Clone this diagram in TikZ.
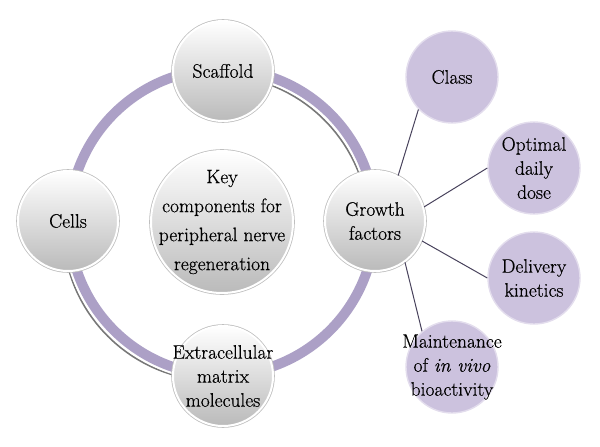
\documentclass[tikz,border=0pt]{standalone}
\usepackage{fontspec}
\setmainfont{Latin Modern Roman}[UprightFeatures={FakeBold=0.5}, ItalicFeatures={FakeBold=0.5}]
\usetikzlibrary{calc}

\definecolor{RingPurple}{RGB}{172,160,198}
\definecolor{RingShadow}{RGB}{120,120,120}
\definecolor{LilacFill}{RGB}{204,194,222}
\definecolor{LinkGray}{RGB}{72,66,92}

\tikzset{
  greyball/.style={circle, minimum size=100pt, inner sep=-25pt, align=center,
    top color=white, bottom color=black!27, draw=white, line width=2pt,
    preaction={draw=black!25, line width=3.6pt},
    font=\fontsize{19.5}{24}\selectfont},
  lilacball/.style={circle, minimum size=92pt, inner sep=-25pt, align=center,
    fill=LilacFill, draw=LilacFill!55!white, line width=1.4pt,
    font=\fontsize{19.5}{24}\selectfont},
  link/.style={draw=LinkGray, line width=1pt}
}

\begin{document}
\begin{tikzpicture}[x=1pt, y=-1pt]

\useasboundingbox (0,0) rectangle (600,447);

\coordinate (O) at (222,222);

% Anillo: sombra, hueco blanco y banda lila
\draw[RingShadow, line width=1.6pt] ($(O)+(-6,6)$) circle [radius=153pt];
\draw[white, line width=14pt] (O) circle [radius=153pt];
\draw[RingPurple, line width=10pt] (O) circle [radius=153pt];

% Componentes clave
\node[greyball] (scaffold) at (223,71) {Scaffold};
\node[greyball] (cells) at (68,221) {Cells};
\node[greyball] (growth) at (375,221) {Growth\\factors};
\node[greyball] (ecm) at (223,376) {Extracellular\\matrix\\molecules};
\node[greyball, minimum size=142pt, font=\fontsize{19.5}{29}\selectfont] (key) at (O)
  {Key\\components for\\peripheral nerve\\regeneration};

% Factores de crecimiento
\node[lilacball] (class) at (452,77) {Class};
\node[lilacball] (dose) at (534,168) {Optimal\\daily\\dose};
\node[lilacball] (kinetics) at (534,278) {Delivery\\kinetics};
\node[lilacball] (bioactivity) at (452,367) {Maintenance\\of \textit{in vivo}\\bioactivity};

\draw[link] (growth.63) -- (class.224);
\draw[link] (growth.16) -- (dose.180);
\draw[link] (growth.-23) -- (kinetics.180);
\draw[link] (growth.-54) -- (bioactivity.130);

\end{tikzpicture}
\end{document}
